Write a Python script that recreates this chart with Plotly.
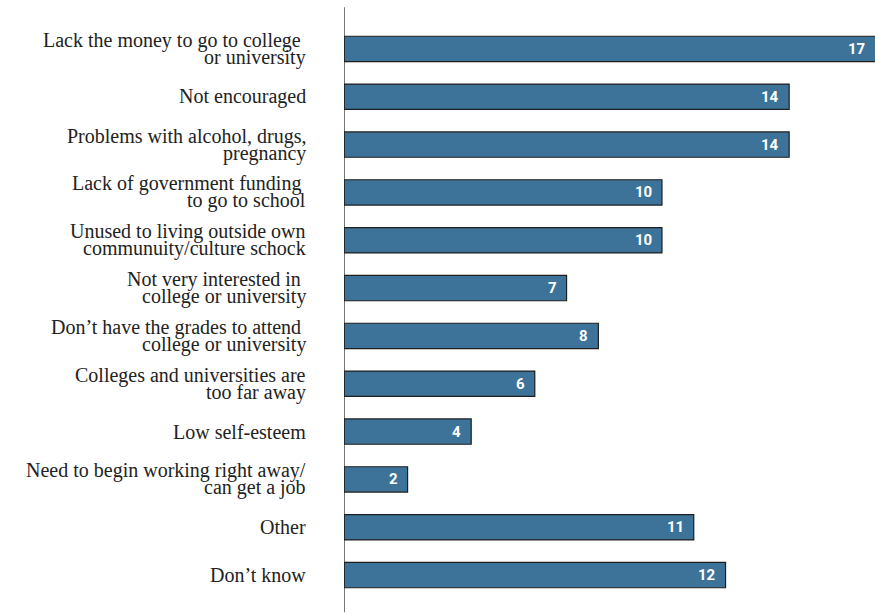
import plotly.graph_objects as go

# Reasons (top to bottom), each split into its printed lines, and percentage of respondents
categories = [
    "money", "encouraged", "alcohol", "funding", "community", "interest",
    "grades", "distance", "esteem", "working", "other", "dontknow",
]
label_lines = [
    ["Lack the money to go to college\u00a0", "or university"],
    ["Not encouraged"],
    ["Problems with alcohol, drugs,", "pregnancy"],
    ["Lack of government funding\u00a0", "to go to school"],
    ["Unused to living outside own", "communuity/culture schock"],
    ["Not very interested in\u00a0", "college or university"],
    ["Don\u2019t have the grades to attend\u00a0", "college or university"],
    ["Colleges and universities are", "too far away"],
    ["Low self-esteem"],
    ["Need to begin working right away/", "can get a job"],
    ["Other"],
    ["Don\u2019t know"],
]
values = [17, 14, 14, 10, 10, 7, 8, 6, 4, 2, 11, 12]

X_MAX = 16.7
BAR_COLOR = "#3d7398"
LABEL_FONT = dict(family="Liberation Serif, Times New Roman, serif", size=20, color="#222222")
LINE_STEP = 17

fig = go.Figure(
    go.Bar(
        x=values,
        y=categories,
        orientation="h",
        marker=dict(color=BAR_COLOR, line=dict(color="#1e1e1e", width=1.2)),
        width=0.53,
        hoverinfo="skip",
    )
)

# Category labels, drawn line by line for tight leading
for cat, lines in zip(categories, label_lines):
    n = len(lines)
    for i, line in enumerate(lines):
        offset = ((n - 1) / 2 - i) * LINE_STEP
        fig.add_annotation(
            x=0, y=cat, xref="paper", yref="y",
            text=line, showarrow=False,
            xanchor="right", yanchor="middle", xshift=-36, yshift=offset,
            font=LABEL_FONT,
        )

# Value labels inside the right end of each bar
for cat, v in zip(categories, values):
    fig.add_annotation(
        x=min(v, X_MAX), y=cat, xref="x", yref="y",
        text=f"<b>{v}</b>", showarrow=False,
        xanchor="right", yanchor="middle", xshift=-8,
        font=dict(family="Liberation Sans Narrow, Roboto, sans-serif", size=15, color="white"),
    )

# Vertical baseline that runs past the plot area
fig.add_shape(
    type="line", xref="x", yref="paper",
    x0=0, x1=0, y0=-0.023, y1=1.031,
    line=dict(color="#1a1a1a", width=1.2),
)

fig.update_layout(
    width=875, height=614,
    margin=dict(l=344, r=0, t=25, b=15),
    paper_bgcolor="white", plot_bgcolor="white",
    showlegend=False,
    xaxis=dict(range=[0, X_MAX], visible=False, fixedrange=True),
    yaxis=dict(
        categoryorder="array", categoryarray=categories, autorange="reversed",
        showline=False, showgrid=False, zeroline=False,
        showticklabels=False, ticks="",
    ),
)

fig.write_html("out.html")
